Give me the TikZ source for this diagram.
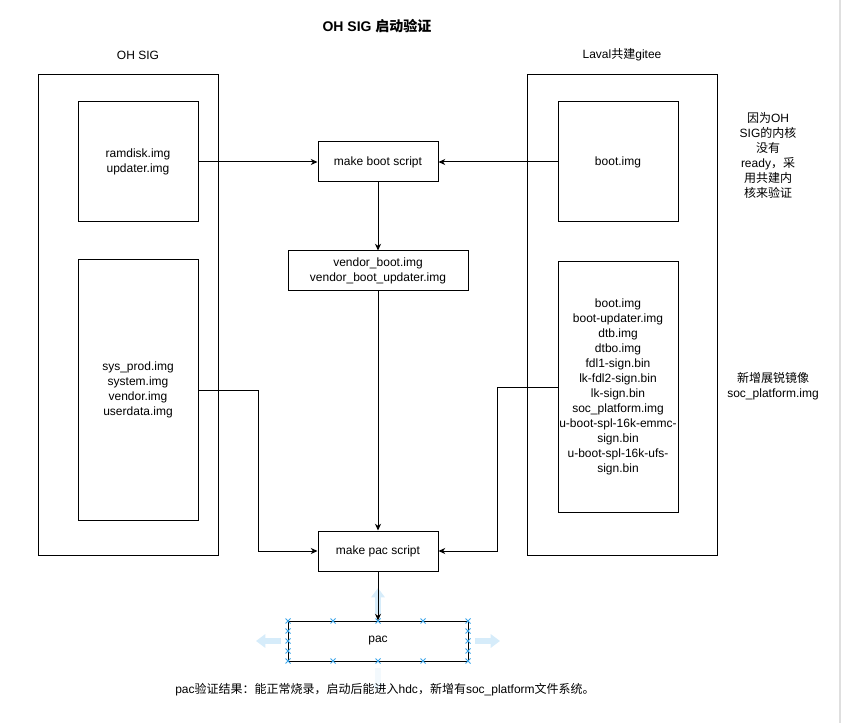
\documentclass[tikz,border=0pt]{standalone}
\usepackage{fontspec}
\setmainfont{Liberation Sans}
\newfontfamily\cjk{Noto Sans CJK SC}
\usetikzlibrary{arrows.meta,positioning}
\definecolor{hoverblue}{HTML}{D6ECFA}
\definecolor{handleblue}{HTML}{3BA6EA}

\begin{document}
\begin{tikzpicture}[
    x=0.75pt, y=-0.75pt,
    line width=0.75pt,
    every node/.style={font=\fontsize{9}{11.25}\selectfont, inner sep=0pt, align=center},
    group/.style={rectangle, draw, minimum width=135pt, minimum height=360pt},
    filebox/.style={rectangle, draw, minimum width=90pt, minimum height=90pt},
    script/.style={rectangle, draw, minimum width=90pt, minimum height=30pt},
    result/.style={rectangle, draw, minimum width=135pt, minimum height=30pt},
    arrow/.style={-{Stealth[length=5pt, width=4.5pt, inset=1.5pt]}},
    hover/.style={draw=hoverblue, line width=4.5pt, -{Triangle[length=7pt, width=10pt]}},
    handle/.style={draw=handleblue, line width=0.6pt},
]
\useasboundingbox (0,0) rectangle (842,723);

% page edge
\draw[gray!25, line width=1.5pt] (839.5,0) -- (839.5,723);

% Title
\node[font=\fontsize{10.5}{12}\selectfont\bfseries] (title) at (377,26) {OH SIG {\cjk 启动验证}};

% OH SIG side
\node (ohlabel) at (138,55) {OH SIG};
\node[group] (ohsig) at (128,315) {};
\node[filebox] (ramdisk) at (138,162) {ramdisk.img\\updater.img};
\node[filebox, minimum height=195pt] (sysprod) at (138,390) {sys\_prod.img\\system.img\\vendor.img\\userdata.img};

% Laval side
\node (lavallabel) at (622,55) {Laval{\cjk 共建}gitee};
\node[group, minimum width=142.5pt] (laval) at (622,315) {};
\node[filebox] (bootimg) at (618,162) {boot.img};
\node[filebox, minimum height=187.5pt] (lavalimgs) at (618,387)
    {boot.img\\boot-updater.img\\dtb.img\\dtbo.img\\fdl1-sign.bin\\lk-fdl2-sign.bin\\lk-sign.bin\\soc\_platform.img\\u-boot-spl-16k-emmc-\\sign.bin\\u-boot-spl-16k-ufs-\\sign.bin};

% Notes
\node (kernelnote) at (768,155) {{\cjk 因为}OH\\SIG{\cjk 的内核}\\{\cjk 没有}\\ready{\cjk ，采}\\{\cjk 用共建内}\\{\cjk 核来验证}};
\node (socnote) at (773,386) {{\cjk 新增展锐镜像}\\soc\_platform.img};

% Build chain
\node[script] (makeboot) at (378,162) {make boot script};
\node[result] (vendorboot) at (378,271) {vendor\_boot.img\\vendor\_boot\_updater.img};
\node[script] (makepac) at (378,551) {make pac script};
\node[result] (pac) at (378,641) {pac};

% Selection handles round pac
\draw[hover] (378,614) -- (378,588);
\draw[hover] (281,641) -- (256,641);
\draw[hover] (475,641) -- (500,641);
\draw[hover, opacity=0.3] (378,668) -- (378,693);
\foreach \hx in {288,333,378,423,468}
  \foreach \hy in {621,661}
    \draw[handle] (\hx-2.5,\hy-2.5) -- (\hx+2.5,\hy+2.5) (\hx-2.5,\hy+2.5) -- (\hx+2.5,\hy-2.5);
\foreach \hx in {288,468}
  \foreach \hy in {631,641,651}
    \draw[handle] (\hx-2.5,\hy-2.5) -- (\hx+2.5,\hy+2.5) (\hx-2.5,\hy+2.5) -- (\hx+2.5,\hy-2.5);

% Result
\node (resultnote) at (385,690) {pac{\cjk 验证结果：能正常烧录，启动后能进入}hdc{\cjk ，新增有}soc\_platform{\cjk 文件系统。}};

% Arrows
\draw[arrow] (ramdisk) -- (makeboot);
\draw[arrow] (bootimg) -- (makeboot);
\draw[arrow] (makeboot) -- (vendorboot);
\draw[arrow] (vendorboot) -- (makepac);
\draw[arrow] (sysprod.east) -- ++(60,0) |- (makepac.west);
\draw[arrow] (lavalimgs.west) -- ++(-60,0) |- (makepac.east);
\draw[arrow] (makepac) -- (pac);

\end{tikzpicture}
\end{document}
